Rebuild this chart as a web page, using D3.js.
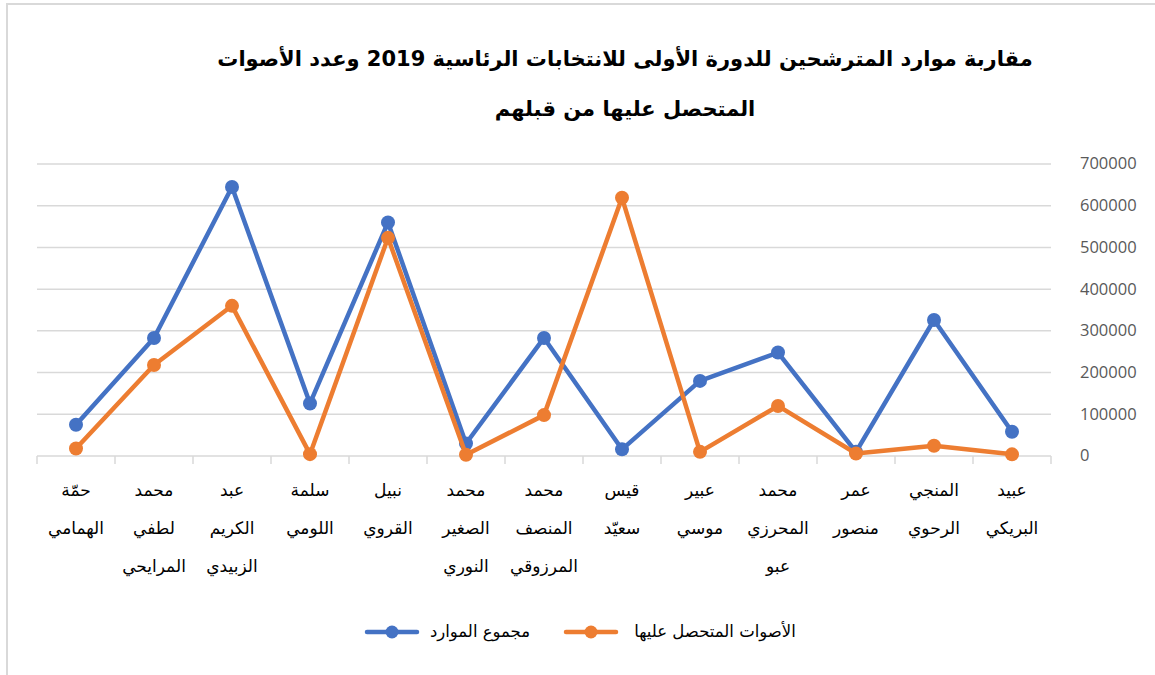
<!DOCTYPE html>
<html>
<head>
<meta charset="utf-8">
<script src="https://cdn.jsdelivr.net/npm/d3@7"></script>
<style>
  body { margin: 0; background: #fff; }
  svg { display: block; }
</style>
</head>
<body>
<svg id="chart" width="1155" height="675"></svg>
<script>
// categories in data order (first one sits at the right, axis is RTL)
const categories = [
  ["عبيد", "البريكي"],
  ["المنجي", "الرحوي"],
  ["عمر", "منصور"],
  ["محمد", "المحرزي", "عبو"],
  ["عبير", "موسي"],
  ["قيس", "سعيّد"],
  ["محمد", "المنصف", "المرزوقي"],
  ["محمد", "الصغير", "النوري"],
  ["نبيل", "القروي"],
  ["سلمة", "اللومي"],
  ["عبد", "الكريم", "الزبيدي"],
  ["محمد", "لطفي", "المرايحي"],
  ["حمّة", "الهمامي"]
];

const resources = [58000, 326000, 10000, 248000, 180000, 16000, 283000, 30000, 560000, 126000, 645000, 283000, 75000];
const votes = [4000, 24700, 6000, 120000, 10000, 619000, 98000, 3000, 523000, 4400, 360000, 218000, 18000];

const yTicks = [0, 100000, 200000, 300000, 400000, 500000, 600000, 700000];

const seriesNames = ["مجموع الموارد", "الأصوات المتحصل عليها"];
const colors = ["#4472C4", "#ED7D31"];

const titleLines = [
  "مقاربة موارد المترشحين للدورة الأولى للانتخابات الرئاسية 2019 وعدد الأصوات",
  "المتحصل عليها من قبلهم"
];

const svg = d3.select("#chart");
const arabicFont = "'DejaVu Sans', sans-serif";

// outer chart frame
svg.append("rect")
  .attr("x", 7).attr("y", 4)
  .attr("width", 1300).attr("height", 800)
  .attr("fill", "none")
  .attr("stroke", "#d9d9d9")
  .attr("stroke-width", 2);

const x = d3.scaleBand()
  .domain(d3.range(categories.length))
  .range([1051, 37]);

const y = d3.scaleLinear()
  .domain([0, 700000])
  .range([456, 164]);

// gridlines
svg.append("g")
  .selectAll("line")
  .data(yTicks)
  .join("line")
  .attr("x1", 37).attr("x2", 1051)
  .attr("y1", d => y(d)).attr("y2", d => y(d))
  .attr("stroke", "#d9d9d9")
  .attr("stroke-width", 1.5);

// category tick marks between bands
const edges = d3.range(categories.length + 1).map(i => 1051 - i * x.step());
svg.append("g")
  .selectAll("line")
  .data(edges)
  .join("line")
  .attr("x1", d => d).attr("x2", d => d)
  .attr("y1", y(0)).attr("y2", y(0) + 8)
  .attr("stroke", "#d9d9d9")
  .attr("stroke-width", 1.5);

// y labels on the right
svg.append("g")
  .selectAll("text")
  .data(yTicks)
  .join("text")
  .attr("x", 1080)
  .attr("y", d => y(d) + 1)
  .attr("dominant-baseline", "middle")
  .attr("font-family", "'Open Sans', sans-serif")
  .attr("font-size", 16.5)
  .attr("fill", "#595959")
  .text(d => d);

// x labels
const xl = svg.append("g")
  .selectAll("text")
  .data(categories)
  .join("text")
  .attr("direction", "rtl")
  .attr("text-anchor", "middle")
  .attr("font-family", arabicFont)
  .attr("font-size", 17)
  .attr("fill", "#000");
xl.selectAll("tspan")
  .data((d, i) => d.map(t => ({ t, i })))
  .join("tspan")
  .attr("x", d => x(d.i) + x.bandwidth() / 2)
  .attr("y", (d, j) => 496 + j * 38)
  .text(d => d.t);

// series
const line = d3.line()
  .x((d, i) => x(i) + x.bandwidth() / 2)
  .y(d => y(d));

[resources, votes].forEach((vals, s) => {
  const g = svg.append("g");
  g.append("path")
    .datum(vals)
    .attr("d", line)
    .attr("fill", "none")
    .attr("stroke", colors[s])
    .attr("stroke-width", 4.5)
    .attr("stroke-linejoin", "round");
  g.selectAll("circle")
    .data(vals)
    .join("circle")
    .attr("cx", (d, i) => x(i) + x.bandwidth() / 2)
    .attr("cy", d => y(d))
    .attr("r", 7)
    .attr("fill", colors[s]);
});

// title
svg.append("g")
  .selectAll("text")
  .data(titleLines)
  .join("text")
  .attr("direction", "rtl")
  .attr("text-anchor", "middle")
  .attr("x", 625)
  .attr("y", (d, i) => 66 + i * 50)
  .attr("font-family", arabicFont)
  .attr("font-weight", "bold")
  .attr("font-size", 21)
  .attr("fill", "#000")
  .text(d => d);

// legend
const legend = [
  { s: 0, lx: 367, tx: 480 },
  { s: 1, lx: 566, tx: 715 }
];
legend.forEach(l => {
  const g = svg.append("g");
  g.append("line")
    .attr("x1", l.lx).attr("x2", l.lx + 50)
    .attr("y1", 632).attr("y2", 632)
    .attr("stroke", colors[l.s])
    .attr("stroke-width", 4.5)
    .attr("stroke-linecap", "round");
  g.append("circle")
    .attr("cx", l.lx + 25).attr("cy", 632)
    .attr("r", 6.5)
    .attr("fill", colors[l.s]);
  g.append("text")
    .attr("direction", "rtl")
    .attr("text-anchor", "middle")
    .attr("x", l.tx).attr("y", 632)
    .attr("dominant-baseline", "middle")
    .attr("font-family", arabicFont)
    .attr("font-size", 16.5)
    .attr("fill", "#000")
    .text(seriesNames[l.s]);
});
</script>
</body>
</html>
